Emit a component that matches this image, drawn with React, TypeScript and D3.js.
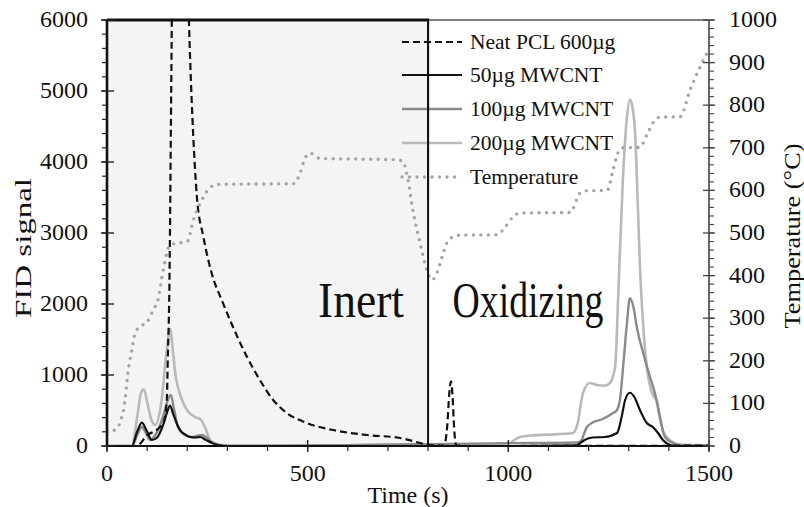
import React from 'react';
import * as d3 from 'd3';

const W = 804, H = 507;
const LEFT = 107, RIGHT = 709, TOP = 20, BOTTOM = 446;

const xTickValues = [0, 500, 1000, 1500];
const yTickValues = [0, 1000, 2000, 3000, 4000, 5000, 6000];
const tTickValues = [0, 100, 200, 300, 400, 500, 600, 700, 800, 900, 1000];

const legendLabels = ['Neat PCL 600µg', '50µg MWCNT', '100µg MWCNT', '200µg MWCNT', 'Temperature'];

// Temperature (°C)
const tempTime = [0, 20, 32, 45, 52, 62, 70, 82, 100, 115, 127, 140, 157, 175, 200, 215, 235, 255, 275, 465, 481, 493, 506, 531, 722, 738, 750, 762, 780, 797, 810, 822, 835, 847, 862, 880, 972, 992, 1012, 1030, 1154, 1179, 1195, 1246, 1261, 1273, 1285, 1328, 1345, 1360, 1378, 1428, 1453, 1478, 1495, 1500];
const tempVal = [33, 38, 54, 108, 171, 225, 265, 280, 291, 319, 343, 413, 472, 476, 480, 530, 575, 605, 614, 616, 640, 675, 687, 675, 672, 667, 624, 554, 477, 413, 390, 406, 444, 477, 491, 495, 496, 514, 538, 547, 548, 594, 599, 600, 648, 688, 700, 701, 730, 758, 772, 773, 836, 890, 922, 930];

// Neat PCL 600µg
const neatTime = [0, 70, 82, 100, 115, 132, 142, 149, 152, 155, 160, 166, 175, 185, 195, 204, 211, 219, 224, 240, 260, 289, 314, 349, 381, 414, 448, 498, 563, 648, 730, 780, 800, 830, 840, 848, 853, 857, 861, 865, 870, 900, 1500];
const neatVal = [0, 0, 30, 155, 197, 268, 350, 648, 1350, 2056, 5000, 9000, 12000, 11000, 8000, 6000, 4870, 3930, 3506, 2950, 2450, 2013, 1676, 1253, 929, 648, 465, 324, 225, 155, 113, 42, 14, 5, 10, 300, 750, 910, 700, 250, 10, 0, 5];

// 50µg MWCNT
const mw50Time = [0, 62, 75, 87, 100, 112, 125, 140, 150, 157, 165, 175, 182, 195, 207, 220, 232, 245, 262, 280, 300, 1000, 1170, 1179, 1190, 1210, 1240, 1271, 1282, 1291, 1303, 1315, 1328, 1345, 1360, 1373, 1385, 1403, 1420, 1500];
const mw50Val = [0, 0, 200, 330, 200, 85, 120, 300, 480, 570, 450, 300, 225, 160, 127, 120, 127, 90, 42, 10, 0, 0, 10, 42, 84, 120, 127, 183, 400, 648, 750, 680, 507, 324, 268, 183, 84, 14, 0, 0];

// 100µg MWCNT
const mw100Time = [0, 62, 75, 87, 97, 107, 120, 140, 150, 159, 167, 177, 190, 212, 225, 237, 250, 262, 280, 300, 1000, 1170, 1179, 1196, 1210, 1235, 1261, 1270, 1278, 1286, 1295, 1303, 1312, 1320, 1336, 1353, 1365, 1378, 1390, 1410, 1430, 1500];
const mw100Val = [0, 0, 150, 268, 180, 85, 150, 420, 620, 718, 520, 268, 170, 127, 145, 155, 110, 42, 10, 0, 40, 50, 60, 268, 330, 380, 465, 500, 648, 1112, 1700, 2080, 1950, 1676, 1310, 972, 746, 408, 127, 40, 10, 5];

// 200µg MWCNT
const mw200Time = [0, 62, 75, 85, 92, 100, 110, 120, 135, 148, 157, 164, 170, 178, 187, 200, 212, 222, 232, 244, 257, 274, 300, 990, 1029, 1060, 1100, 1161, 1172, 1186, 1203, 1221, 1240, 1253, 1266, 1275, 1285, 1295, 1303, 1310, 1316, 1322, 1328, 1336, 1345, 1355, 1362, 1370, 1378, 1386, 1395, 1410, 1430, 1500];
const mw200Val = [0, 0, 400, 750, 800, 620, 380, 296, 600, 1300, 1650, 1350, 1028, 800, 648, 500, 436, 400, 380, 268, 84, 28, 5, 10, 127, 150, 160, 183, 300, 746, 887, 859, 850, 887, 1112, 2300, 3700, 4600, 4880, 4750, 4400, 3500, 2520, 1700, 1112, 800, 700, 640, 366, 200, 127, 50, 20, 10];

const FONT = '"Liberation Serif", "Times New Roman", serif';

export default function App() {
  const x = d3.scaleLinear().domain([0, 1500]).range([LEFT, RIGHT]);
  const y = d3.scaleLinear().domain([0, 6000]).range([BOTTOM, TOP]);
  const yT = d3.scaleLinear().domain([0, 1000]).range([BOTTOM, TOP]);

  const mk = (ts: number[], vs: number[], sc: d3.ScaleLinear<number, number>) =>
    d3.line<number>().x((_, i) => x(ts[i])).y((d) => sc(d)).curve(d3.curveMonotoneX)(vs) || '';

  const series = [
    { d: mk(mw200Time, mw200Val, y), stroke: '#b9b9b9', w: 2.6, dash: undefined as string | undefined, cap: 'butt' },
    { d: mk(mw100Time, mw100Val, y), stroke: '#8a8a8a', w: 2.4, dash: undefined, cap: 'butt' },
    { d: mk(mw50Time, mw50Val, y), stroke: '#111', w: 2.2, dash: undefined, cap: 'butt' },
    { d: mk(neatTime, neatVal, y), stroke: '#111', w: 2.2, dash: '7,4', cap: 'butt' },
    { d: mk(tempTime, tempVal, yT), stroke: '#a3a3a3', w: 3.4, dash: '0,7.5', cap: 'round' },
  ];

  const legendStyles = [
    { stroke: '#111', w: 2.2, dash: '7,4', cap: 'butt' },
    { stroke: '#111', w: 2.2, dash: undefined as string | undefined, cap: 'butt' },
    { stroke: '#8a8a8a', w: 2.4, dash: undefined, cap: 'butt' },
    { stroke: '#b9b9b9', w: 2.6, dash: undefined, cap: 'butt' },
    { stroke: '#a3a3a3', w: 3.4, dash: '0,7.5', cap: 'round' },
  ];
  const legendY = [42, 75, 109, 143, 177];

  const xMinor = d3.range(0, 1501, 100);
  const yMinor = d3.range(0, 6001, 200);
  const tMinor = d3.range(0, 1001, 20);
  const xDiv = x(800);

  return (
    <svg width={W} height={H} style={{ position: 'absolute', left: 0, top: 0, background: '#fff' }} fontFamily={FONT}>
      <defs>
        <clipPath id="plot">
          <rect x={LEFT} y={TOP} width={RIGHT - LEFT} height={BOTTOM - TOP} />
        </clipPath>
      </defs>
      <rect x={0} y={0} width={W} height={H} fill="#fff" />
      <rect x={LEFT} y={TOP} width={xDiv - LEFT} height={BOTTOM - TOP} fill="#f4f4f4" />
      <line x1={xDiv} x2={RIGHT} y1={TOP} y2={TOP} stroke="#555" strokeWidth={1.5} />

      <text x={361} y={317} fontSize={50} textAnchor="middle" fill="#111" textLength={86} lengthAdjust="spacingAndGlyphs">Inert</text>
      <text x={528} y={317} fontSize={50} textAnchor="middle" fill="#111" textLength={151} lengthAdjust="spacingAndGlyphs">Oxidizing</text>

      <g clipPath="url(#plot)">
        {series.map((s, i) => (
          <path key={i} d={s.d} fill="none" stroke={s.stroke} strokeWidth={s.w} strokeDasharray={s.dash} strokeLinecap={s.cap as any} strokeLinejoin="round" />
        ))}
      </g>

      <line x1={xDiv} x2={xDiv} y1={TOP} y2={BOTTOM} stroke="#111" strokeWidth={2} />
      <line x1={LEFT} x2={xDiv + 1} y1={TOP} y2={TOP} stroke="#111" strokeWidth={3} />

      {/* x axis */}
      <line x1={LEFT - 1} x2={RIGHT} y1={BOTTOM} y2={BOTTOM} stroke="#111" strokeWidth={2} />
      {xMinor.map((v) => (
        <line key={'xm' + v} x1={x(v)} x2={x(v)} y1={BOTTOM} y2={BOTTOM + 5} stroke="#222" strokeWidth={1.2} />
      ))}
      {xTickValues.map((v) => (
        <g key={'xt' + v}>
          <line x1={x(v)} x2={x(v)} y1={BOTTOM - 6} y2={BOTTOM + 6} stroke="#222" strokeWidth={1.4} />
          <text x={x(v)} y={481} fontSize={24} textAnchor="middle" fill="#111">{v}</text>
        </g>
      ))}
      <text x={(LEFT + RIGHT) / 2} y={503} fontSize={24} textAnchor="middle" fill="#111">Time (s)</text>

      {/* left axis */}
      <line x1={LEFT} x2={LEFT} y1={TOP - 1} y2={BOTTOM + 1} stroke="#111" strokeWidth={2.6} />
      {yMinor.map((v) => (
        <line key={'ym' + v} x1={LEFT - 5} x2={LEFT} y1={y(v)} y2={y(v)} stroke="#222" strokeWidth={1.2} />
      ))}
      {yTickValues.map((v) => (
        <g key={'yt' + v}>
          <line x1={LEFT - 6} x2={LEFT + 7} y1={y(v)} y2={y(v)} stroke="#222" strokeWidth={1.4} />
          <text x={88} y={y(v) + 7} fontSize={24} textAnchor="end" fill="#111">{v}</text>
        </g>
      ))}
      <text transform={`translate(31,248) rotate(-90)`} fontSize={24} textAnchor="middle" fill="#111" textLength={140} lengthAdjust="spacingAndGlyphs">FID signal</text>

      {/* right axis */}
      <line x1={RIGHT} x2={RIGHT} y1={TOP} y2={BOTTOM + 1} stroke="#444" strokeWidth={1.6} />
      {tMinor.map((v) => (
        <line key={'tm' + v} x1={RIGHT} x2={RIGHT + 5} y1={yT(v)} y2={yT(v)} stroke="#444" strokeWidth={1.1} />
      ))}
      {tTickValues.map((v) => (
        <g key={'tt' + v}>
          <line x1={RIGHT - 6} x2={RIGHT + 6} y1={yT(v)} y2={yT(v)} stroke="#444" strokeWidth={1.3} />
          <text x={729} y={yT(v) + 7} fontSize={24} textAnchor="start" fill="#111">{v}</text>
        </g>
      ))}
      <text transform={`translate(800,236) rotate(-90)`} fontSize={24} textAnchor="middle" fill="#111" textLength={185} lengthAdjust="spacingAndGlyphs">Temperature (°C)</text>

      {/* legend */}
      {legendLabels.map((lab, i) => (
        <g key={'lg' + i}>
          <line x1={402} x2={462} y1={legendY[i]} y2={legendY[i]} stroke={legendStyles[i].stroke} strokeWidth={legendStyles[i].w} strokeDasharray={legendStyles[i].dash} strokeLinecap={legendStyles[i].cap as any} />
          <text x={470} y={legendY[i] + 7} fontSize={21.5} fill="#111">{lab}</text>
        </g>
      ))}
      <line x1={xDiv} x2={xDiv} y1={TOP} y2={200} stroke="#111" strokeWidth={2} />
    </svg>
  );
}
